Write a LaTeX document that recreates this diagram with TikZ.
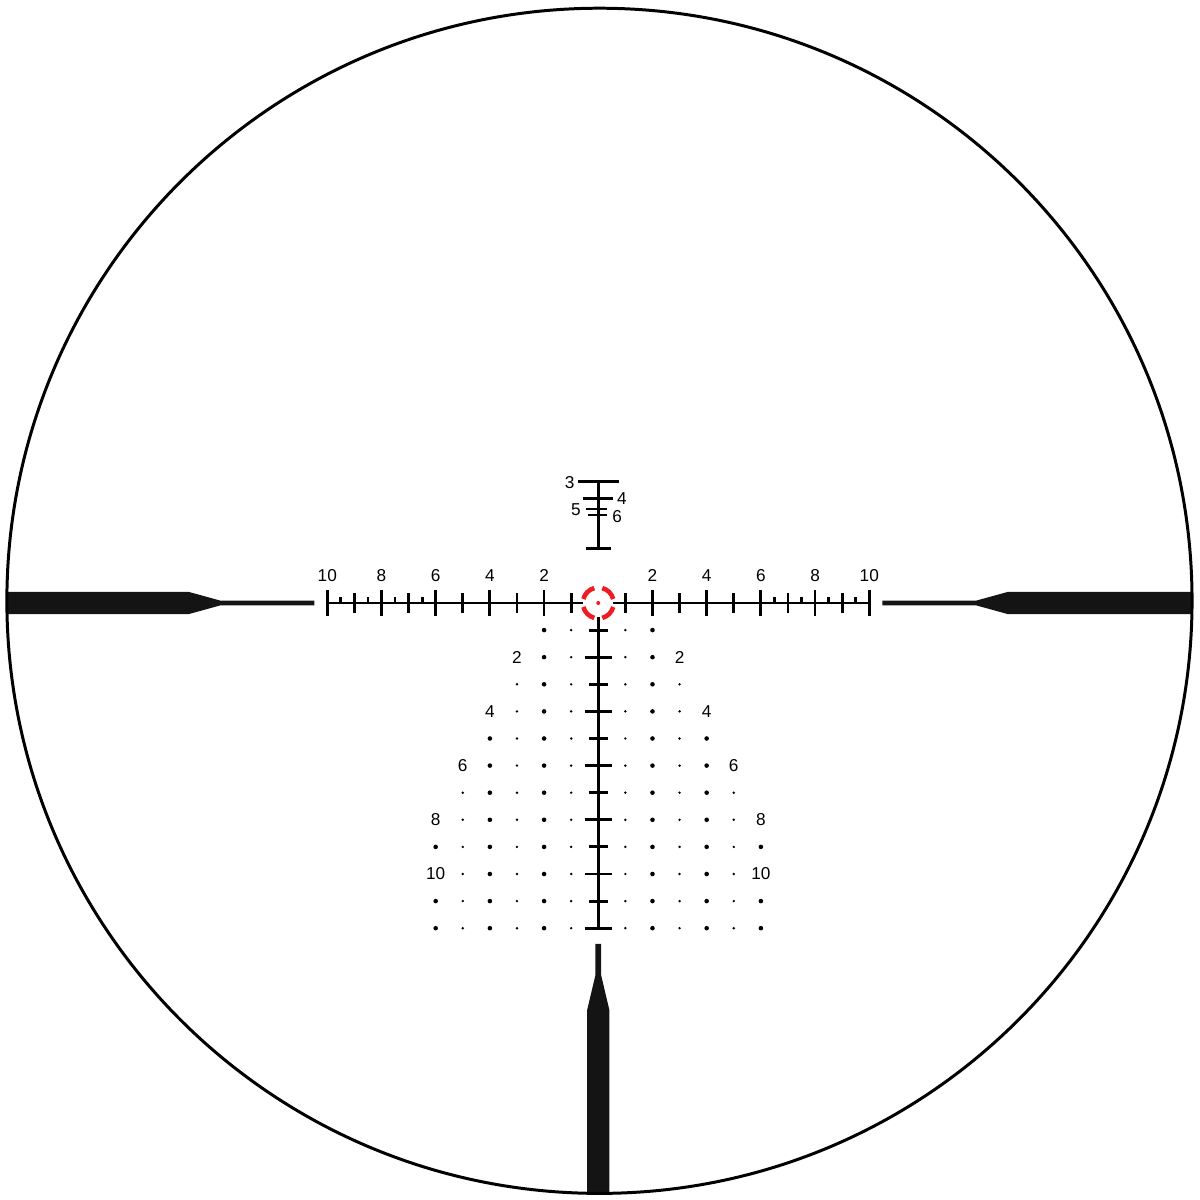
\documentclass[tikz,border=0pt]{standalone}
\usepackage{fontspec}
\setmainfont{Liberation Sans}
\usepackage{tikz}
\definecolor{dotred}{HTML}{EE1D23}

\begin{document}
\begin{tikzpicture}[scale=.271,
  lbl/.style={font=\fontsize{4.9}{5}\selectfont, inner sep=0pt},
  rline/.style={line width=.8pt}]
\useasboundingbox (-22.077,-22.030) rectangle (22.203,22.251);
% heavy posts
\begin{scope}
\clip (0.044,0.081) circle (21.867);
\fill[black!92](-23,.406)--(-15.10,.406)--(-13.96,.092)--(-10.48,.092)--(-10.48,-.092)--(-13.96,-.092)--(-15.10,-.406)--(-23,-.406)--cycle;
\fill[black!92](23,.406)--(15.10,.406)--(13.96,.092)--(10.48,.092)--(10.48,-.092)--(13.96,-.092)--(15.10,-.406)--(23,-.406)--cycle;
\fill[black!92](-.105,-12.58)--(.105,-12.58)--(.105,-13.73)--(.41,-15.02)--(.41,-23)--(-.41,-23)--(-.41,-15.02)--(-.105,-13.73)--cycle;
\end{scope}
\draw[line width=.85pt](0.044,0.081)circle(21.867);

% horizontal scale
\draw[line width=.6pt](-10,0)--(-.55,0);
\draw[line width=.6pt](.55,0)--(10,0);
\foreach \k in {2,4,...,10}{
  \draw[rline](\k,-.47)--(\k,.47);
  \draw[rline](-\k,-.47)--(-\k,.47);
  \node[lbl](hr\k) at (\k,1.03){\k};
  \node[lbl](hl\k) at (-\k,1.03){\k};
}
\foreach \k in {1,3,...,9}{
  \draw[rline](\k,-.36)--(\k,.36);
  \draw[rline](-\k,-.36)--(-\k,.36);
}
\foreach \k in {6.5,7.5,8.5,9.5}{
  \draw[rline](\k,0)--(\k,.22);
  \draw[rline](-\k,0)--(-\k,.22);
}

% vertical scale
\draw[rline](0,-.5)--(0,-12);
\foreach \k in {2,4,...,12}\draw[rline](-.5,-\k)--(.5,-\k);
\foreach \k in {1,3,...,11}\draw[rline](-.35,-\k)--(.35,-\k);

% holdover dots
\foreach \r/\c in {1/2,2/2,3/3,4/3,5/4,6/4,7/5,8/5,9/6,10/5,11/6,12/6}
  \foreach \i in {1,...,\c}{
    \pgfmathsetmacro\rad{isodd(\i) ? 1.4 : 2.4}
    \fill(\i,-\r)circle(\rad pt);
    \fill(-\i,-\r)circle(\rad pt);
  }
\foreach \r/\c in {2/3,4/4,6/5,8/6,10/6}{
  \node[lbl](dl\r) at (-\c,-\r){\r};
  \node[lbl](dr\r) at (\c,-\r){\r};
}

% range bar
\draw[rline](0,2)--(0,4.47);
\draw[rline](-.76,4.47)--(.77,4.47);
\draw[rline](-.58,3.87)--(.53,3.87);
\draw[rline](-.46,3.47)--(.31,3.47);
\draw[rline](-.38,3.25)--(.31,3.25);
\draw[rline](-.46,2)--(.46,2);
\node[lbl,anchor=east](e3) at (-.85,4.44){3};
\node[lbl,anchor=west](e4) at (.67,3.84){4};
\node[lbl,anchor=east](e5) at (-.62,3.43){5};
\node[lbl,anchor=west](e6) at (.49,3.18){6};

% red centre
\foreach \a in {45,135,225,315}
  \draw[dotred,line width=1.3pt]({\a-30}:.57)arc({\a-30}:{\a+30}:.57);
\fill[dotred](0,0)circle(2.1pt);
\end{tikzpicture}
\end{document}
